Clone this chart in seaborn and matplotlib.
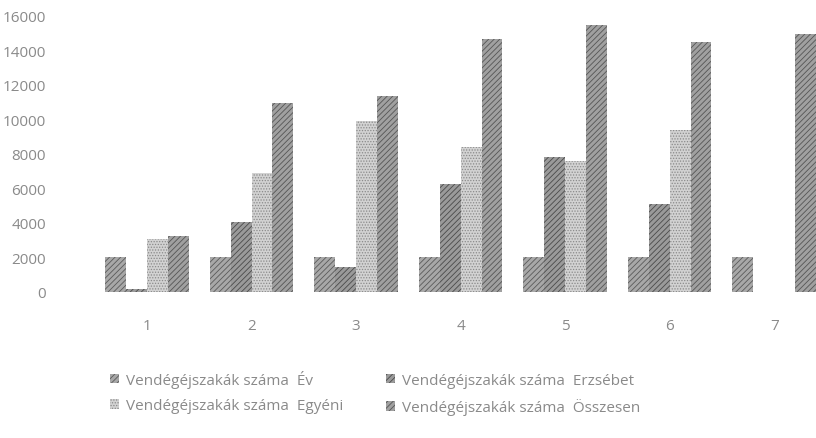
import numpy as np
import pandas as pd
import matplotlib.pyplot as plt
import seaborn as sns

# Adatok (leolvasva az abrarol)
categories = ['1', '2', '3', '4', '5', '6', '7']
series = ['Vendégéjszakák száma  Év', 'Vendégéjszakák száma  Erzsébet',
          'Vendégéjszakák száma  Egyéni', 'Vendégéjszakák száma  Összesen']
ev = [2004, 2005, 2006, 2007, 2008, 2009, 2010]
erzsebet = [150, 4050, 1450, 6250, 7850, 5100, np.nan]
egyeni = [3100, 6900, 9900, 8400, 7600, 9400, np.nan]
osszesen = [3250, 10950, 11350, 14650, 15450, 14500, 14950]

df = pd.DataFrame({'kat': categories * 4,
                   'sorozat': np.repeat(series, len(categories)),
                   'ertek': ev + erzsebet + egyeni + osszesen})

sns.set_style('white')
plt.rcParams['font.family'] = ['Open Sans', 'DejaVu Sans']
plt.rcParams['hatch.linewidth'] = 0.6

fig = plt.figure(figsize=(8.16, 4.39), dpi=100)
ax = fig.add_axes([100 / 816, (439 - 293) / 439, 716 / 816, 276 / 439])

sns.barplot(data=df, x='kat', y='ertek', hue='sorozat', hue_order=series,
            order=categories, width=0.8, ax=ax, legend=False)

faces = ['#a8a8a8', '#9a9a9a', '#d2d2d2', '#a0a0a0']
edges = ['#5a5a5a', '#4a4a4a', '#8a8a8a', '#555555']
hatches = ['//////', '//////', '......', '//////']
for cont, fc, ec, h in zip(ax.containers, faces, edges, hatches):
    for bar in cont:
        bar.set_facecolor(fc)
        bar.set_edgecolor(ec)
        bar.set_hatch(h)
        bar.set_linewidth(0)

ax.set_ylim(0, 16000)
ax.set_yticks(range(0, 16001, 2000))
ax.set_xlim(-0.45, 6.40)
ax.set_xlabel('')
ax.set_ylabel('')
for s in ax.spines.values():
    s.set_visible(False)
ax.tick_params(axis='y', length=0, pad=39, labelsize=11, labelcolor='#8a8a8a')
ax.tick_params(axis='x', length=0, pad=19, labelsize=11, labelcolor='#8a8a8a')

# jelmagyarazat lent, ket oszlopban (soronkent: Ev, Erzsebet / Egyeni, Osszesen)
handles = [plt.Rectangle((0, 0), 1, 1, facecolor=fc, edgecolor=ec, hatch=h, linewidth=0)
           for fc, ec, h in zip(faces, edges, hatches)]
order = [0, 2, 1, 3]
fig.legend([handles[i] for i in order], [series[i] for i in order],
           loc='upper left', bbox_to_anchor=(96 / 816, 1 - 357 / 439),
           ncol=2, frameon=False, fontsize=11, labelcolor='#8a8a8a',
           handlelength=0.6, handleheight=0.6, handletextpad=0.45,
           columnspacing=2.8, labelspacing=0.7)

fig.savefig('out.png', dpi=100)
